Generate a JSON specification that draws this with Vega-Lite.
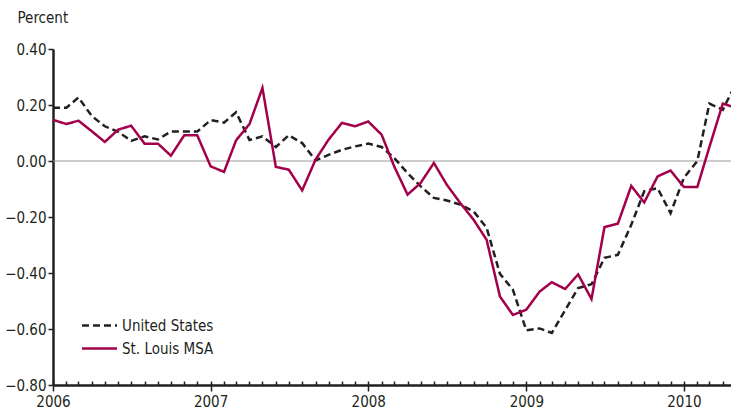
{
  "$schema": "https://vega.github.io/schema/vega-lite/v6.json",
  "width": 678,
  "height": 336,
  "autosize": {"type": "none"},
  "padding": {"left": 53, "top": 49, "right": 0, "bottom": 28},
  "background": "white",
  "config": {"view": {"stroke": null}, "font": "DejaVu Sans Condensed, Roboto, sans-serif"},
  "datasets": {
    "us": [
      {"date": "2006-01-01", "value": 0.19}, {"date": "2006-02-01", "value": 0.19}, {"date": "2006-03-01", "value": 0.227},
      {"date": "2006-04-01", "value": 0.16}, {"date": "2006-05-01", "value": 0.124}, {"date": "2006-06-01", "value": 0.104},
      {"date": "2006-07-01", "value": 0.072}, {"date": "2006-08-01", "value": 0.088}, {"date": "2006-09-01", "value": 0.077},
      {"date": "2006-10-01", "value": 0.105}, {"date": "2006-11-01", "value": 0.105}, {"date": "2006-12-01", "value": 0.105},
      {"date": "2007-01-01", "value": 0.146}, {"date": "2007-02-01", "value": 0.137}, {"date": "2007-03-01", "value": 0.174},
      {"date": "2007-04-01", "value": 0.075}, {"date": "2007-05-01", "value": 0.088}, {"date": "2007-06-01", "value": 0.05},
      {"date": "2007-07-01", "value": 0.092}, {"date": "2007-08-01", "value": 0.064}, {"date": "2007-09-01", "value": 0.002},
      {"date": "2007-10-01", "value": 0.022}, {"date": "2007-11-01", "value": 0.04}, {"date": "2007-12-01", "value": 0.052},
      {"date": "2008-01-01", "value": 0.062}, {"date": "2008-02-01", "value": 0.05}, {"date": "2008-03-01", "value": 0.011},
      {"date": "2008-04-01", "value": -0.043}, {"date": "2008-05-01", "value": -0.09}, {"date": "2008-06-01", "value": -0.132},
      {"date": "2008-07-01", "value": -0.141}, {"date": "2008-08-01", "value": -0.156}, {"date": "2008-09-01", "value": -0.18},
      {"date": "2008-10-01", "value": -0.238}, {"date": "2008-11-01", "value": -0.403}, {"date": "2008-12-01", "value": -0.46},
      {"date": "2009-01-01", "value": -0.605}, {"date": "2009-02-01", "value": -0.598}, {"date": "2009-03-01", "value": -0.614},
      {"date": "2009-04-01", "value": -0.533}, {"date": "2009-05-01", "value": -0.454}, {"date": "2009-06-01", "value": -0.44},
      {"date": "2009-07-01", "value": -0.346}, {"date": "2009-08-01", "value": -0.335}, {"date": "2009-09-01", "value": -0.228},
      {"date": "2009-10-01", "value": -0.108}, {"date": "2009-11-01", "value": -0.097}, {"date": "2009-12-01", "value": -0.186},
      {"date": "2010-01-01", "value": -0.06}, {"date": "2010-02-01", "value": 0.0}, {"date": "2010-03-01", "value": 0.205},
      {"date": "2010-04-01", "value": 0.183}, {"date": "2010-05-01", "value": 0.276}
    ],
    "stl": [
      {"date": "2006-01-01", "value": 0.147}, {"date": "2006-02-01", "value": 0.132}, {"date": "2006-03-01", "value": 0.144},
      {"date": "2006-04-01", "value": 0.106}, {"date": "2006-05-01", "value": 0.068}, {"date": "2006-06-01", "value": 0.112},
      {"date": "2006-07-01", "value": 0.126}, {"date": "2006-08-01", "value": 0.062}, {"date": "2006-09-01", "value": 0.062},
      {"date": "2006-10-01", "value": 0.019}, {"date": "2006-11-01", "value": 0.092}, {"date": "2006-12-01", "value": 0.092},
      {"date": "2007-01-01", "value": -0.019}, {"date": "2007-02-01", "value": -0.039}, {"date": "2007-03-01", "value": 0.074},
      {"date": "2007-04-01", "value": 0.132}, {"date": "2007-05-01", "value": 0.261}, {"date": "2007-06-01", "value": -0.021},
      {"date": "2007-07-01", "value": -0.031}, {"date": "2007-08-01", "value": -0.105}, {"date": "2007-09-01", "value": 0.005},
      {"date": "2007-10-01", "value": 0.076}, {"date": "2007-11-01", "value": 0.136}, {"date": "2007-12-01", "value": 0.124},
      {"date": "2008-01-01", "value": 0.141}, {"date": "2008-02-01", "value": 0.094}, {"date": "2008-03-01", "value": -0.019},
      {"date": "2008-04-01", "value": -0.12}, {"date": "2008-05-01", "value": -0.079}, {"date": "2008-06-01", "value": -0.007},
      {"date": "2008-07-01", "value": -0.085}, {"date": "2008-08-01", "value": -0.15}, {"date": "2008-09-01", "value": -0.21},
      {"date": "2008-10-01", "value": -0.281}, {"date": "2008-11-01", "value": -0.484}, {"date": "2008-12-01", "value": -0.55},
      {"date": "2009-01-01", "value": -0.531}, {"date": "2009-02-01", "value": -0.466}, {"date": "2009-03-01", "value": -0.433},
      {"date": "2009-04-01", "value": -0.457}, {"date": "2009-05-01", "value": -0.405}, {"date": "2009-06-01", "value": -0.493},
      {"date": "2009-07-01", "value": -0.236}, {"date": "2009-08-01", "value": -0.224}, {"date": "2009-09-01", "value": -0.089},
      {"date": "2009-10-01", "value": -0.148}, {"date": "2009-11-01", "value": -0.055}, {"date": "2009-12-01", "value": -0.034},
      {"date": "2010-01-01", "value": -0.093}, {"date": "2010-02-01", "value": -0.093}, {"date": "2010-03-01", "value": 0.05},
      {"date": "2010-04-01", "value": 0.205}, {"date": "2010-05-01", "value": 0.19}
    ]
  },
  "layer": [
    {
      "data": {"values": [{"v": 0}]},
      "mark": {"type": "rule", "color": "#9a9a9a", "strokeWidth": 1},
      "encoding": {
        "y": {"field": "v", "type": "quantitative", "scale": {"domain": [-0.8, 0.4], "nice": false, "zero": false},
          "axis": {"values": [-0.8, -0.6, -0.4, -0.2, 0, 0.2, 0.4], "format": ".2f", "tickSize": 5, "tickWidth": 1.5, "tickColor": "#231f20", "domainColor": "#231f20", "domainWidth": 2.5, "labelFontSize": 15, "labelFont": "DejaVu Sans Condensed, Roboto, sans-serif", "labelPadding": 2, "labelColor": "#231f20", "grid": false, "title": "Percent", "titleAngle": 0, "titleAlign": "left", "titleBaseline": "alphabetic", "titleX": -36, "titleY": -27, "titleFontSize": 15, "titleFontWeight": "normal", "titleColor": "#231f20", "titleFont": "DejaVu Sans Condensed, Roboto, sans-serif"}}
      }
    },
    {
      "data": {"name": "us"},
      "transform": [{"calculate": "'United States'", "as": "series"}],
      "mark": {"type": "line", "strokeWidth": 2.5, "clip": true},
      "encoding": {
        "x": {"field": "date", "type": "temporal",
          "scale": {"type": "utc", "domain": [{"year": 2006, "month": 1, "date": 1, "utc": true}, {"year": 2010, "month": 4, "date": 20, "utc": true}]},
          "axis": {"orient": "bottom", "values": [{"year": 2006, "utc": true}, {"year": 2007, "utc": true}, {"year": 2008, "utc": true}, {"year": 2009, "utc": true}, {"year": 2010, "utc": true}], "format": "%Y", "tickSize": 6, "tickWidth": 1.5, "tickColor": "#231f20", "domainColor": "#231f20", "domainWidth": 2.5, "labelFontSize": 15, "labelFont": "DejaVu Sans Condensed, Roboto, sans-serif", "labelPadding": 3, "labelColor": "#231f20", "labelFlush": false, "title": null, "grid": false}},
        "y": {"field": "value", "type": "quantitative", "scale": {"domain": [-0.8, 0.4], "nice": false, "zero": false},
          "axis": {"values": [-0.8, -0.6, -0.4, -0.2, 0, 0.2, 0.4], "format": ".2f", "tickSize": 5, "tickWidth": 1.5, "tickColor": "#231f20", "domainColor": "#231f20", "domainWidth": 2.5, "labelFontSize": 15, "labelFont": "DejaVu Sans Condensed, Roboto, sans-serif", "labelPadding": 2, "labelColor": "#231f20", "grid": false, "title": "Percent", "titleAngle": 0, "titleAlign": "left", "titleBaseline": "alphabetic", "titleX": -36, "titleY": -27, "titleFontSize": 15, "titleFontWeight": "normal", "titleColor": "#231f20", "titleFont": "DejaVu Sans Condensed, Roboto, sans-serif"}},
        "color": {"field": "series", "type": "nominal", "scale": {"domain": ["United States", "St. Louis MSA"], "range": ["#231f20", "#a3004b"]},
          "legend": {"orient": "none", "legendX": 38, "legendY": 268, "title": null, "symbolType": "M-2.5,0L2.5,0", "symbolSize": 196, "symbolStrokeWidth": 2.5, "labelFontSize": 15, "labelFont": "DejaVu Sans Condensed, Roboto, sans-serif", "labelColor": "#231f20", "rowPadding": 6, "labelOffset": 14, "padding": 0}},
        "strokeDash": {"field": "series", "type": "nominal", "scale": {"domain": ["United States", "St. Louis MSA"], "range": [[7, 4], [1, 0]]},
          "legend": {"orient": "none", "legendX": 38, "legendY": 268, "title": null, "symbolType": "M-2.5,0L2.5,0", "symbolSize": 196, "symbolStrokeWidth": 2.5, "labelFontSize": 15, "labelFont": "DejaVu Sans Condensed, Roboto, sans-serif", "labelColor": "#231f20", "rowPadding": 6, "labelOffset": 14, "padding": 0}}
      }
    },
    {
      "data": {"name": "stl"},
      "transform": [{"calculate": "'St. Louis MSA'", "as": "series"}],
      "mark": {"type": "line", "strokeWidth": 2.5, "clip": true},
      "encoding": {
        "x": {"field": "date", "type": "temporal",
          "scale": {"type": "utc", "domain": [{"year": 2006, "month": 1, "date": 1, "utc": true}, {"year": 2010, "month": 4, "date": 20, "utc": true}]},
          "axis": {"orient": "bottom", "tickCount": {"interval": "month", "step": 1}, "tickSize": -4, "tickWidth": 1.5, "tickColor": "#231f20", "labels": false, "domain": false, "title": null, "grid": false}},
        "y": {"field": "value", "type": "quantitative", "scale": {"domain": [-0.8, 0.4], "nice": false, "zero": false},
          "axis": {"values": [-0.8, -0.6, -0.4, -0.2, 0, 0.2, 0.4], "format": ".2f", "tickSize": 5, "tickWidth": 1.5, "tickColor": "#231f20", "domainColor": "#231f20", "domainWidth": 2.5, "labelFontSize": 15, "labelFont": "DejaVu Sans Condensed, Roboto, sans-serif", "labelPadding": 2, "labelColor": "#231f20", "grid": false, "title": "Percent", "titleAngle": 0, "titleAlign": "left", "titleBaseline": "alphabetic", "titleX": -36, "titleY": -27, "titleFontSize": 15, "titleFontWeight": "normal", "titleColor": "#231f20", "titleFont": "DejaVu Sans Condensed, Roboto, sans-serif"}},
        "color": {"field": "series", "type": "nominal", "scale": {"domain": ["United States", "St. Louis MSA"], "range": ["#231f20", "#a3004b"]},
          "legend": {"orient": "none", "legendX": 38, "legendY": 268, "title": null, "symbolType": "M-2.5,0L2.5,0", "symbolSize": 196, "symbolStrokeWidth": 2.5, "labelFontSize": 15, "labelFont": "DejaVu Sans Condensed, Roboto, sans-serif", "labelColor": "#231f20", "rowPadding": 6, "labelOffset": 14, "padding": 0}},
        "strokeDash": {"field": "series", "type": "nominal", "scale": {"domain": ["United States", "St. Louis MSA"], "range": [[7, 4], [1, 0]]},
          "legend": {"orient": "none", "legendX": 38, "legendY": 268, "title": null, "symbolType": "M-2.5,0L2.5,0", "symbolSize": 196, "symbolStrokeWidth": 2.5, "labelFontSize": 15, "labelFont": "DejaVu Sans Condensed, Roboto, sans-serif", "labelColor": "#231f20", "rowPadding": 6, "labelOffset": 14, "padding": 0}}
      }
    }
  ],
  "resolve": {"axis": {"x": "independent"}}
}
